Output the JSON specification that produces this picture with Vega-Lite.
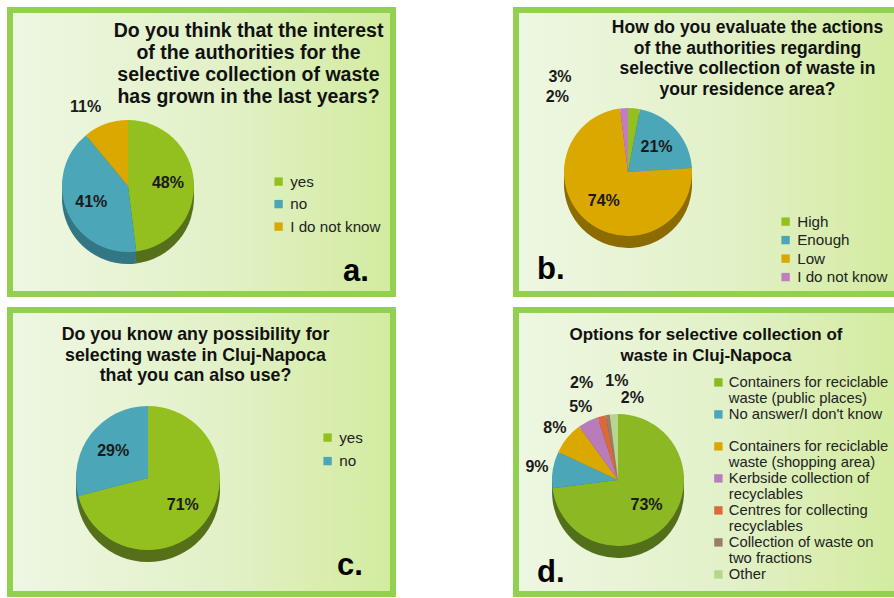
{
  "$schema": "https://vega.github.io/schema/vega-lite/v6.json",
  "padding": {"left": 7, "top": 7, "right": 0, "bottom": 0},
  "columns": 2,
  "bounds": "flush",
  "spacing": {"row": 16, "column": 123},
  "config": {"view": {"stroke": null}, "font": "Liberation Sans"},
  "resolve": {"scale": {"color": "independent", "fill": "independent", "theta": "independent"}, "legend": {"color": "independent"}},
  "concat": [
    {
      "width": 383, "height": 284,
      "title": {"text": ["Do you think that the interest", "of the authorities for the", "selective collection of waste", "has grown in the last years?"], "fontSize": 19.5, "lineHeight": 22, "font": "Liberation Sans", "fontWeight": "bold", "color": "#111111", "anchor": "middle", "dx": 47, "offset": -100},
      "data": {"values": [
        {"i": 1, "k": "yes", "v": 0.48},
        {"i": 2, "k": "no", "v": 0.41},
        {"i": 3, "k": "I do not know", "v": 0.11}
      ]},
      "layer": [
        {"data": {"values": [{}]}, "mark": {"type": "rect", "fill": {"gradient": "linear", "x1": 0, "y1": 0.5, "x2": 1, "y2": 0.5, "stops": [{"offset": 0, "color": "#eef7e2"}, {"offset": 0.55, "color": "#e2f1c8"}, {"offset": 1, "color": "#d3eb9f"}]}, "stroke": "#92d050", "strokeWidth": 6}, "encoding": {}},
        {"mark": {"type": "arc", "x": 118, "y": 188, "outerRadius": 66}, "encoding": {"theta": {"field": "v", "type": "quantitative", "stack": true}, "order": {"field": "i", "type": "quantitative"}, "fill": {"field": "i", "type": "ordinal", "scale": {"domain": [1, 2, 3], "range": ["#56701a", "#337684", "#8c6c00"]}, "legend": null}}},
        {"mark": {"type": "arc", "x": 118, "y": 184, "outerRadius": 66}, "encoding": {"theta": {"field": "v", "type": "quantitative", "stack": true}, "order": {"field": "i", "type": "quantitative"}, "fill": {"field": "i", "type": "ordinal", "legend": null}}},
        {"mark": {"type": "arc", "x": 118, "y": 180, "outerRadius": 66}, "encoding": {"theta": {"field": "v", "type": "quantitative", "stack": true}, "order": {"field": "i", "type": "quantitative"}, "fill": {"field": "i", "type": "ordinal", "legend": null}}},
        {"mark": {"type": "arc", "x": 118, "y": 176, "outerRadius": 66}, "encoding": {"theta": {"field": "v", "type": "quantitative", "stack": true}, "order": {"field": "i", "type": "quantitative"}, "color": {"field": "k", "type": "nominal", "scale": {"domain": ["yes", "no", "I do not know"], "range": ["#93c01f", "#4ba6b8", "#dba800"]}, "legend": {"orient": "none", "legendX": 261, "legendY": 164, "title": null, "symbolType": "square", "symbolSize": 70, "labelFontSize": 15.2, "labelFont": "Liberation Sans", "labelColor": "#222222", "rowPadding": 6.5}}}},
        {"mark": {"type": "text", "x": 118, "y": 176, "radius": 40, "fontSize": 16, "fontWeight": "bold", "color": "#1a1a1a"}, "encoding": {"theta": {"field": "v", "type": "quantitative", "stack": true}, "order": {"field": "i", "type": "quantitative"}, "detail": {"field": "k"}, "text": {"condition": {"test": "datum.i < 3", "field": "v", "type": "quantitative", "format": ".0%"}, "value": ""}}},
        {"mark": {"type": "text", "x": 118, "y": 176, "radius": 84, "dx": -14, "fontSize": 16, "fontWeight": "bold", "color": "#1a1a1a"}, "encoding": {"theta": {"field": "v", "type": "quantitative", "stack": true}, "order": {"field": "i", "type": "quantitative"}, "detail": {"field": "k"}, "text": {"condition": {"test": "datum.i == 3", "field": "v", "type": "quantitative", "format": ".0%"}, "value": ""}}},
        {"data": {"values": [{"t": "a."}]}, "mark": {"type": "text", "x": 333, "y": 271, "align": "left", "baseline": "alphabetic", "fontSize": 31, "fontWeight": "bold", "color": "#000000"}, "encoding": {"text": {"field": "t"}}}
      ]
    },
    {
      "width": 383, "height": 284,
      "title": {"text": ["How do you evaluate the actions", "of the authorities regarding", "selective collection of waste in", "your residence area?"], "fontSize": 17.5, "lineHeight": 20.5, "font": "Liberation Sans", "fontWeight": "bold", "color": "#111111", "anchor": "middle", "dx": 40, "offset": -91},
      "data": {"values": [
        {"i": 1, "k": "High", "v": 0.03},
        {"i": 2, "k": "Enough", "v": 0.21},
        {"i": 3, "k": "Low", "v": 0.74},
        {"i": 4, "k": "I do not know", "v": 0.02}
      ]},
      "layer": [
        {"data": {"values": [{}]}, "mark": {"type": "rect", "fill": {"gradient": "linear", "x1": 0, "y1": 0.5, "x2": 1, "y2": 0.5, "stops": [{"offset": 0, "color": "#eef7e2"}, {"offset": 0.55, "color": "#e2f1c8"}, {"offset": 1, "color": "#d3eb9f"}]}, "stroke": "#92d050", "strokeWidth": 6}, "encoding": {}},
        {"mark": {"type": "arc", "x": 112, "y": 174, "outerRadius": 64}, "encoding": {"theta": {"field": "v", "type": "quantitative", "stack": true}, "order": {"field": "i", "type": "quantitative"}, "fill": {"field": "i", "type": "ordinal", "scale": {"domain": [1, 2, 3, 4], "range": ["#56701a", "#337684", "#8c6c00", "#7a4f7a"]}, "legend": null}}},
        {"mark": {"type": "arc", "x": 112, "y": 170, "outerRadius": 64}, "encoding": {"theta": {"field": "v", "type": "quantitative", "stack": true}, "order": {"field": "i", "type": "quantitative"}, "fill": {"field": "i", "type": "ordinal", "legend": null}}},
        {"mark": {"type": "arc", "x": 112, "y": 166, "outerRadius": 64}, "encoding": {"theta": {"field": "v", "type": "quantitative", "stack": true}, "order": {"field": "i", "type": "quantitative"}, "fill": {"field": "i", "type": "ordinal", "legend": null}}},
        {"mark": {"type": "arc", "x": 112, "y": 162, "outerRadius": 64}, "encoding": {"theta": {"field": "v", "type": "quantitative", "stack": true}, "order": {"field": "i", "type": "quantitative"}, "color": {"field": "k", "type": "nominal", "scale": {"domain": ["High", "Enough", "Low", "I do not know"], "range": ["#93c01f", "#4ba6b8", "#dba800", "#c07ec0"]}, "legend": {"orient": "none", "legendX": 262, "legendY": 204, "title": null, "symbolType": "square", "symbolSize": 70, "labelFontSize": 15.2, "labelFont": "Liberation Sans", "labelColor": "#222222", "rowPadding": 2.5}}}},
        {"mark": {"type": "text", "x": 112, "y": 162, "radius": 38, "fontSize": 16, "fontWeight": "bold", "color": "#1a1a1a"}, "encoding": {"theta": {"field": "v", "type": "quantitative", "stack": true}, "order": {"field": "i", "type": "quantitative"}, "detail": {"field": "k"}, "text": {"condition": {"test": "datum.i == 2 || datum.i == 3", "field": "v", "type": "quantitative", "format": ".0%"}, "value": ""}}},
        {"mark": {"type": "text", "x": 112, "y": 162, "radius": 95, "dx": -77, "fontSize": 16, "fontWeight": "bold", "color": "#1a1a1a"}, "encoding": {"theta": {"field": "v", "type": "quantitative", "stack": true}, "order": {"field": "i", "type": "quantitative"}, "detail": {"field": "k"}, "text": {"condition": {"test": "datum.i == 1", "field": "v", "type": "quantitative", "format": ".0%"}, "value": ""}}},
        {"mark": {"type": "text", "x": 112, "y": 162, "radius": 75, "dx": -66, "fontSize": 16, "fontWeight": "bold", "color": "#1a1a1a"}, "encoding": {"theta": {"field": "v", "type": "quantitative", "stack": true}, "order": {"field": "i", "type": "quantitative"}, "detail": {"field": "k"}, "text": {"condition": {"test": "datum.i == 4", "field": "v", "type": "quantitative", "format": ".0%"}, "value": ""}}},
        {"data": {"values": [{"t": "b."}]}, "mark": {"type": "text", "x": 21, "y": 269, "align": "left", "baseline": "alphabetic", "fontSize": 31, "fontWeight": "bold", "color": "#000000"}, "encoding": {"text": {"field": "t"}}}
      ]
    },
    {
      "width": 383, "height": 284,
      "title": {"text": ["Do you know any possibility for", "selecting waste in Cluj-Napoca", "that you can also use?"], "fontSize": 17.8, "lineHeight": 20.5, "font": "Liberation Sans", "fontWeight": "bold", "color": "#111111", "anchor": "middle", "dx": -6, "offset": -78},
      "data": {"values": [
        {"i": 1, "k": "yes", "v": 0.71},
        {"i": 2, "k": "no", "v": 0.29}
      ]},
      "layer": [
        {"data": {"values": [{}]}, "mark": {"type": "rect", "fill": {"gradient": "linear", "x1": 0, "y1": 0.5, "x2": 1, "y2": 0.5, "stops": [{"offset": 0, "color": "#eef7e2"}, {"offset": 0.55, "color": "#e2f1c8"}, {"offset": 1, "color": "#d3eb9f"}]}, "stroke": "#92d050", "strokeWidth": 6}, "encoding": {}},
        {"mark": {"type": "arc", "x": 138, "y": 180, "outerRadius": 72}, "encoding": {"theta": {"field": "v", "type": "quantitative", "stack": true}, "order": {"field": "i", "type": "quantitative"}, "fill": {"field": "i", "type": "ordinal", "scale": {"domain": [1, 2], "range": ["#56701a", "#337684"]}, "legend": null}}},
        {"mark": {"type": "arc", "x": 138, "y": 176, "outerRadius": 72}, "encoding": {"theta": {"field": "v", "type": "quantitative", "stack": true}, "order": {"field": "i", "type": "quantitative"}, "fill": {"field": "i", "type": "ordinal", "legend": null}}},
        {"mark": {"type": "arc", "x": 138, "y": 172, "outerRadius": 72}, "encoding": {"theta": {"field": "v", "type": "quantitative", "stack": true}, "order": {"field": "i", "type": "quantitative"}, "fill": {"field": "i", "type": "ordinal", "legend": null}}},
        {"mark": {"type": "arc", "x": 138, "y": 168, "outerRadius": 72}, "encoding": {"theta": {"field": "v", "type": "quantitative", "stack": true}, "order": {"field": "i", "type": "quantitative"}, "color": {"field": "k", "type": "nominal", "scale": {"domain": ["yes", "no"], "range": ["#93c01f", "#4ba6b8"]}, "legend": {"orient": "none", "legendX": 310, "legendY": 120, "title": null, "symbolType": "square", "symbolSize": 70, "labelFontSize": 15.2, "labelFont": "Liberation Sans", "labelColor": "#222222", "rowPadding": 7.5}}}},
        {"mark": {"type": "text", "x": 138, "y": 168, "radius": 44, "fontSize": 16, "fontWeight": "bold", "color": "#1a1a1a"}, "encoding": {"theta": {"field": "v", "type": "quantitative", "stack": true}, "order": {"field": "i", "type": "quantitative"}, "detail": {"field": "k"}, "text": {"field": "v", "type": "quantitative", "format": ".0%"}}},
        {"data": {"values": [{"t": "c."}]}, "mark": {"type": "text", "x": 327, "y": 265, "align": "left", "baseline": "alphabetic", "fontSize": 31, "fontWeight": "bold", "color": "#000000"}, "encoding": {"text": {"field": "t"}}}
      ]
    },
    {
      "width": 383, "height": 284,
      "title": {"text": ["Options for selective  collection  of", "waste in Cluj-Napoca"], "fontSize": 17, "lineHeight": 21.5, "font": "Liberation Sans", "fontWeight": "bold", "color": "#111111", "anchor": "middle", "dx": -1.5, "offset": -58},
      "data": {"values": [
        {"i": 1, "k": "Containers for reciclable|waste (public places)", "v": 0.73},
        {"i": 2, "k": "No answer/I don't know| ", "v": 0.09},
        {"i": 3, "k": "Containers for reciclable|waste (shopping area)", "v": 0.08},
        {"i": 4, "k": "Kerbside collection of|recyclables", "v": 0.05},
        {"i": 5, "k": "Centres for collecting|recyclables", "v": 0.02},
        {"i": 6, "k": "Collection of waste on|two fractions", "v": 0.01},
        {"i": 7, "k": "Other", "v": 0.02}
      ]},
      "layer": [
        {"data": {"values": [{}]}, "mark": {"type": "rect", "fill": {"gradient": "linear", "x1": 0, "y1": 0.5, "x2": 1, "y2": 0.5, "stops": [{"offset": 0, "color": "#eef7e2"}, {"offset": 0.55, "color": "#e2f1c8"}, {"offset": 1, "color": "#d3eb9f"}]}, "stroke": "#92d050", "strokeWidth": 6}, "encoding": {}},
        {"mark": {"type": "arc", "x": 102, "y": 182, "outerRadius": 66}, "encoding": {"theta": {"field": "v", "type": "quantitative", "stack": true}, "order": {"field": "i", "type": "quantitative"}, "fill": {"field": "i", "type": "ordinal", "scale": {"domain": [1, 2, 3, 4, 5, 6, 7], "range": ["#52701a", "#337684", "#8c6c00", "#7a4f7c", "#8f4424", "#6a5444", "#7d9660"]}, "legend": null}}},
        {"mark": {"type": "arc", "x": 102, "y": 178, "outerRadius": 66}, "encoding": {"theta": {"field": "v", "type": "quantitative", "stack": true}, "order": {"field": "i", "type": "quantitative"}, "fill": {"field": "i", "type": "ordinal", "legend": null}}},
        {"mark": {"type": "arc", "x": 102, "y": 174, "outerRadius": 66}, "encoding": {"theta": {"field": "v", "type": "quantitative", "stack": true}, "order": {"field": "i", "type": "quantitative"}, "fill": {"field": "i", "type": "ordinal", "legend": null}}},
        {"mark": {"type": "arc", "x": 102, "y": 170, "outerRadius": 66}, "encoding": {"theta": {"field": "v", "type": "quantitative", "stack": true}, "order": {"field": "i", "type": "quantitative"}, "color": {"field": "k", "type": "nominal", "scale": {"domain": ["Containers for reciclable|waste (public places)", "No answer/I don't know| ", "Containers for reciclable|waste (shopping area)", "Kerbside collection of|recyclables", "Centres for collecting|recyclables", "Collection of waste on|two fractions", "Other"], "range": ["#8bb823", "#4ba6b8", "#dba800", "#b87cba", "#db6a3a", "#9b7d66", "#b6d58e"]}, "legend": {"orient": "none", "legendX": 195, "legendY": 65, "title": null, "symbolType": "square", "symbolSize": 70, "labelFontSize": 14.8, "labelFont": "Liberation Sans", "labelColor": "#222222", "labelOffset": 3, "rowPadding": 0, "labelLimit": 400, "labelBaseline": "top", "labelExpr": "split(datum.label, '|')", "encode": {"labels": {"update": {"dy": {"value": -7.5}, "lineHeight": {"value": 16}}}}}}}},
        {"mark": {"type": "text", "x": 102, "y": 170, "radius": 38, "fontSize": 16, "fontWeight": "bold", "color": "#1a1a1a"}, "encoding": {"theta": {"field": "v", "type": "quantitative", "stack": true}, "order": {"field": "i", "type": "quantitative"}, "detail": {"field": "k"}, "text": {"condition": {"test": "datum.i == 1", "field": "v", "type": "quantitative", "format": ".0%"}, "value": ""}}},
        {"mark": {"type": "text", "x": 102, "y": 170, "radius": 82, "fontSize": 16, "fontWeight": "bold", "color": "#1a1a1a"}, "encoding": {"theta": {"field": "v", "type": "quantitative", "stack": true}, "order": {"field": "i", "type": "quantitative"}, "detail": {"field": "k"}, "text": {"condition": {"test": "datum.i >= 2 && datum.i <= 4", "field": "v", "type": "quantitative", "format": ".0%"}, "value": ""}}},
        {"mark": {"type": "text", "x": 102, "y": 170, "radius": 100, "align": "right", "fontSize": 16, "fontWeight": "bold", "color": "#1a1a1a"}, "encoding": {"theta": {"field": "v", "type": "quantitative", "stack": true}, "order": {"field": "i", "type": "quantitative"}, "detail": {"field": "k"}, "text": {"condition": {"test": "datum.i == 5", "field": "v", "type": "quantitative", "format": ".0%"}, "value": ""}}},
        {"mark": {"type": "text", "x": 102, "y": 170, "radius": 100, "align": "left", "dx": 3, "fontSize": 16, "fontWeight": "bold", "color": "#1a1a1a"}, "encoding": {"theta": {"field": "v", "type": "quantitative", "stack": true}, "order": {"field": "i", "type": "quantitative"}, "detail": {"field": "k"}, "text": {"condition": {"test": "datum.i == 6", "field": "v", "type": "quantitative", "format": ".0%"}, "value": ""}}},
        {"mark": {"type": "text", "x": 102, "y": 170, "radius": 82, "align": "left", "dx": 8, "fontSize": 16, "fontWeight": "bold", "color": "#1a1a1a"}, "encoding": {"theta": {"field": "v", "type": "quantitative", "stack": true}, "order": {"field": "i", "type": "quantitative"}, "detail": {"field": "k"}, "text": {"condition": {"test": "datum.i == 7", "field": "v", "type": "quantitative", "format": ".0%"}, "value": ""}}},
        {"data": {"values": [{"t": "d."}]}, "mark": {"type": "text", "x": 21, "y": 272, "align": "left", "baseline": "alphabetic", "fontSize": 31, "fontWeight": "bold", "color": "#000000"}, "encoding": {"text": {"field": "t"}}}
      ]
    }
  ]
}
